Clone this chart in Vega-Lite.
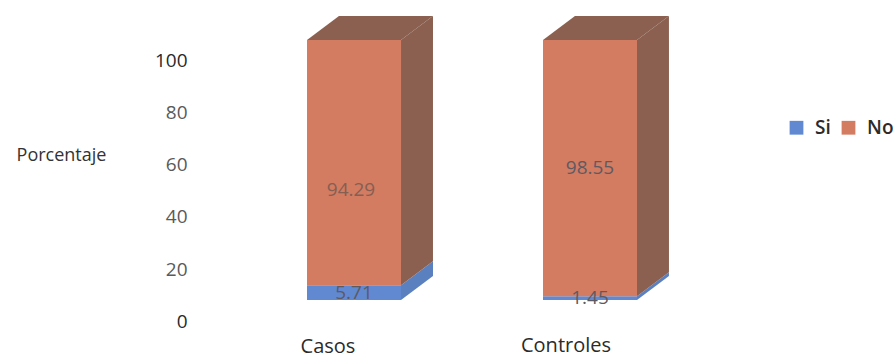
{
  "$schema": "https://vega.github.io/schema/vega-lite/v6.json",
  "width": 895,
  "height": 359,
  "autosize": "none",
  "padding": 0,
  "background": "white",
  "datasets": {
    "porcentajes": [
      {"grupo": "Casos", "serie": "Si", "valor": 5.71},
      {"grupo": "Casos", "serie": "No", "valor": 94.29},
      {"grupo": "Controles", "serie": "Si", "valor": 1.45},
      {"grupo": "Controles", "serie": "No", "valor": 98.55}
    ],
    "caras": [
      {"grupo": "Casos", "serie": "Si", "cara": "lado", "u": 1, "desde": 0, "hasta": 5.71},
      {"grupo": "Casos", "serie": "Si", "cara": "lado", "u": 1.34, "desde": 9.2, "hasta": 14.91},
      {"grupo": "Casos", "serie": "No", "cara": "lado", "u": 1, "desde": 5.71, "hasta": 100},
      {"grupo": "Casos", "serie": "No", "cara": "lado", "u": 1.34, "desde": 14.91, "hasta": 109.2},
      {"grupo": "Casos", "serie": "No", "cara": "tapa", "u": 0, "desde": 100, "hasta": 100},
      {"grupo": "Casos", "serie": "No", "cara": "tapa", "u": 0.34, "desde": 100, "hasta": 109.2},
      {"grupo": "Casos", "serie": "No", "cara": "tapa", "u": 1, "desde": 100, "hasta": 109.2},
      {"grupo": "Casos", "serie": "No", "cara": "tapa", "u": 1.34, "desde": 109.2, "hasta": 109.2},
      {"grupo": "Controles", "serie": "Si", "cara": "lado", "u": 3.51, "desde": 0, "hasta": 1.45},
      {"grupo": "Controles", "serie": "Si", "cara": "lado", "u": 3.85, "desde": 9.2, "hasta": 10.65},
      {"grupo": "Controles", "serie": "No", "cara": "lado", "u": 3.51, "desde": 1.45, "hasta": 100},
      {"grupo": "Controles", "serie": "No", "cara": "lado", "u": 3.85, "desde": 10.65, "hasta": 109.2},
      {"grupo": "Controles", "serie": "No", "cara": "tapa", "u": 2.51, "desde": 100, "hasta": 100},
      {"grupo": "Controles", "serie": "No", "cara": "tapa", "u": 2.85, "desde": 100, "hasta": 109.2},
      {"grupo": "Controles", "serie": "No", "cara": "tapa", "u": 3.51, "desde": 100, "hasta": 109.2},
      {"grupo": "Controles", "serie": "No", "cara": "tapa", "u": 3.85, "desde": 109.2, "hasta": 109.2}
    ]
  },
  "config": {
    "view": {"stroke": null},
    "font": "Open Sans"
  },
  "layer": [
    {
      "data": {"name": "caras"},
      "mark": {"type": "area", "clip": false},
      "encoding": {
        "x": {"field": "u", "type": "quantitative", "axis": null,
              "scale": {"domain": [0, 3.51], "range": [307, 637], "zero": false, "nice": false}},
        "y": {"field": "desde", "type": "quantitative",
              "scale": {"domain": [-22.69, 115.38], "range": [359, 0], "nice": false, "zero": false},
              "axis": null},
        "y2": {"field": "hasta"},
        "detail": [{"field": "grupo"}, {"field": "cara"}],
        "color": {"field": "serie", "type": "nominal", "legend": null,
                  "scale": {"domain": ["Si", "No"], "range": ["#5a80c0", "#8b6050"]}}
      }
    },
    {
      "data": {"name": "porcentajes"},
      "transform": [
        {"stack": "valor", "groupby": ["grupo"], "sort": [{"field": "serie", "order": "descending"}], "as": ["base", "techo"]}
      ],
      "mark": {"type": "bar"},
      "encoding": {
        "x": {"field": "grupo", "type": "nominal", "axis": null,
              "scale": {"type": "band", "domain": ["Casos", "Controles"], "range": [307, 637], "paddingInner": 0.6017, "paddingOuter": 0}},
        "y": {"field": "base", "type": "quantitative",
              "scale": {"domain": [-22.69, 115.38], "range": [359, 0], "nice": false, "zero": false},
              "axis": {
                "values": [0, 20, 40, 60, 80, 100],
                "orient": "left",
                "offset": -188,
                "domain": false,
                "ticks": false,
                "grid": false,
                "labelOffset": 21,
                "labelPadding": 1,
                "labelFontSize": 19,
                "labelFont": "Open Sans",
                "labelColor": {"condition": {"test": "datum.value === 100 || datum.value === 0", "value": "#2a2a2a"}, "value": "#5a5a5a"},
                "title": "Porcentaje",
                "titleAngle": 0,
                "titleX": -127,
                "titleY": 155,
                "titleAlign": "center",
                "titleBaseline": "middle",
                "titleFont": "Open Sans",
                "titleFontSize": 18,
                "titleFontWeight": "normal",
                "titleColor": "#333333"
              }},
        "y2": {"field": "techo"},
        "color": {"field": "serie", "type": "nominal",
                  "scale": {"domain": ["Si", "No"], "range": ["#6089d2", "#d37c62"]},
                  "legend": {
                    "title": null,
                    "orient": "none",
                    "legendX": 787,
                    "legendY": 118,
                    "direction": "horizontal",
                    "columns": 2,
                    "columnPadding": 8,
                    "symbolType": "square",
                    "symbolSize": 190,
                    "symbolStrokeWidth": 0,
                    "labelFont": "Open Sans",
                    "labelFontSize": 19,
                    "labelFontWeight": 600,
                    "labelColor": "#2b2b2b",
                    "labelOffset": 9
                  }}
      }
    },
    {
      "data": {"name": "porcentajes"},
      "transform": [
        {"stack": "valor", "groupby": ["grupo"], "sort": [{"field": "serie", "order": "descending"}], "as": ["base", "techo"]},
        {"calculate": "(datum.base + datum.techo) / 2", "as": "centro"},
        {"filter": "datum.valor !== 94.29"}
      ],
      "mark": {"type": "text", "fontSize": 19, "color": "#5e5a62", "font": "Open Sans"},
      "encoding": {
        "x": {"field": "grupo", "type": "nominal", "axis": null,
              "scale": {"type": "band", "domain": ["Casos", "Controles"], "range": [307, 637], "paddingInner": 0.6017, "paddingOuter": 0}},
        "y": {"field": "centro", "type": "quantitative", "axis": null,
              "scale": {"domain": [-22.69, 115.38], "range": [359, 0], "nice": false, "zero": false}},
        "text": {"field": "valor", "type": "nominal"}
      }
    },
    {
      "data": {"name": "porcentajes"},
      "transform": [
        {"stack": "valor", "groupby": ["grupo"], "sort": [{"field": "serie", "order": "descending"}], "as": ["base", "techo"]},
        {"calculate": "(datum.base + datum.techo) / 2", "as": "centro"},
        {"filter": "datum.valor === 94.29"}
      ],
      "mark": {"type": "text", "fontSize": 19, "color": "#855f52", "font": "Open Sans", "dy": 27, "dx": -3},
      "encoding": {
        "x": {"field": "grupo", "type": "nominal", "axis": null,
              "scale": {"type": "band", "domain": ["Casos", "Controles"], "range": [307, 637], "paddingInner": 0.6017, "paddingOuter": 0}},
        "y": {"field": "centro", "type": "quantitative", "axis": null,
              "scale": {"domain": [-22.69, 115.38], "range": [359, 0], "nice": false, "zero": false}},
        "text": {"field": "valor", "type": "nominal"}
      }
    },
    {
      "data": {"values": [{"grupo": "Casos"}]},
      "mark": {"type": "text", "fontSize": 20, "color": "#2b2b2b", "font": "Open Sans", "fontWeight": 500, "dx": -26, "dy": 47},
      "encoding": {
        "x": {"field": "grupo", "type": "nominal", "axis": null,
              "scale": {"type": "band", "domain": ["Casos", "Controles"], "range": [307, 637], "paddingInner": 0.6017, "paddingOuter": 0}},
        "y": {"datum": 0, "type": "quantitative", "axis": null,
              "scale": {"domain": [-22.69, 115.38], "range": [359, 0], "nice": false, "zero": false}},
        "text": {"field": "grupo"}
      }
    },
    {
      "data": {"values": [{"grupo": "Controles"}]},
      "mark": {"type": "text", "fontSize": 20, "color": "#2b2b2b", "font": "Open Sans", "fontWeight": 500, "dx": -24, "dy": 46},
      "encoding": {
        "x": {"field": "grupo", "type": "nominal", "axis": null,
              "scale": {"type": "band", "domain": ["Casos", "Controles"], "range": [307, 637], "paddingInner": 0.6017, "paddingOuter": 0}},
        "y": {"datum": 0, "type": "quantitative", "axis": null,
              "scale": {"domain": [-22.69, 115.38], "range": [359, 0], "nice": false, "zero": false}},
        "text": {"field": "grupo"}
      }
    }
  ],
  "resolve": {"scale": {"x": "independent", "color": "independent"}, "axis": {"y": "independent"}}
}
